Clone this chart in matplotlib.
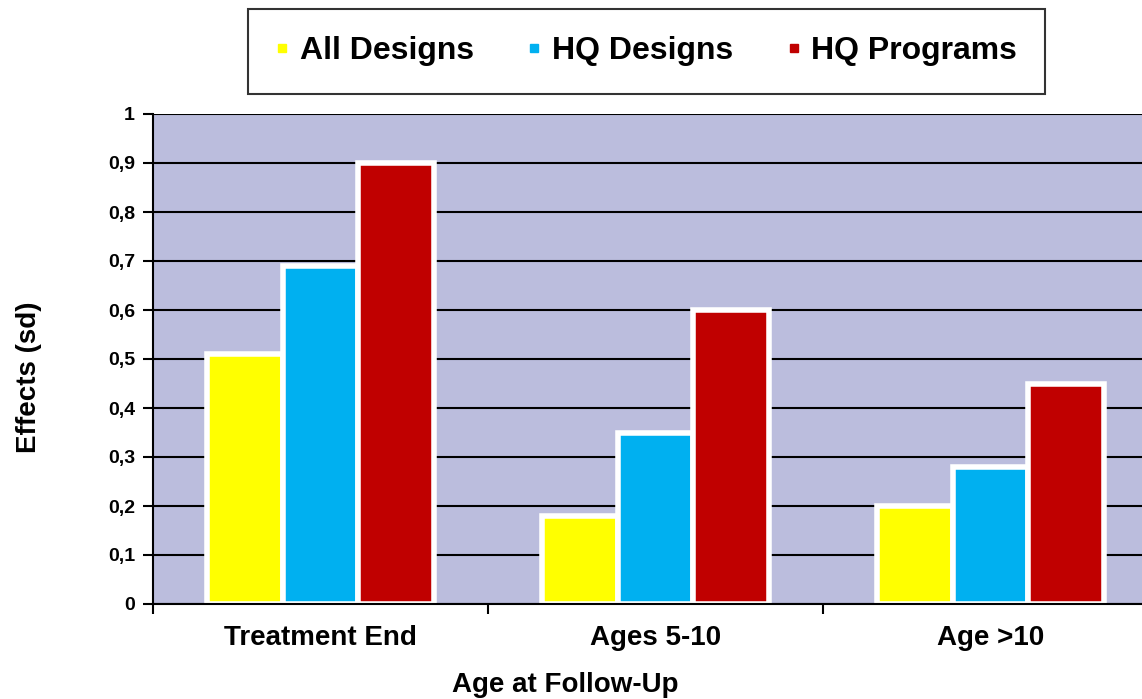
import numpy as np
import matplotlib.pyplot as plt
from matplotlib.lines import Line2D

plt.rcParams['font.family'] = ['Liberation Sans', 'DejaVu Sans']
plt.rcParams['font.weight'] = 'bold'

categories = ["Treatment End", "Ages 5-10", "Age >10"]
series_names = ["All Designs", "HQ Designs", "HQ Programs"]
all_designs = [0.51, 0.18, 0.20]
hq_designs = [0.69, 0.35, 0.28]
hq_programs = [0.90, 0.60, 0.45]
colors = ["#FFFF00", "#00B0F0", "#C00000"]

W, H = 1142, 699
fig = plt.figure(figsize=(W / 100, H / 100), dpi=100)
ax = fig.add_axes([153 / W, (H - 604) / H, 1005 / W, 490 / H])
ax.set_facecolor("#BBBDDD")

x = np.arange(len(categories))
width = 0.225
for k, (vals, c) in enumerate(zip([all_designs, hq_designs, hq_programs], colors)):
    ax.bar(x + (k - 1) * width, vals, width, color=c, edgecolor="white",
           linewidth=4, zorder=3)

ax.set_xlim(-0.5, len(categories) - 0.5)
ax.set_ylim(0, 1)
yt = np.round(np.arange(0, 1.01, 0.1), 1)
ax.set_yticks(yt)
ax.set_yticklabels([("%g" % v).replace(".", ",") for v in yt], fontsize=14)
ax.yaxis.grid(True, color="black", linewidth=1.5, zorder=1)
ax.set_axisbelow(True)

# boundary ticks on the bottom, category names in between
ax.set_xticks(np.arange(len(categories) + 1) - 0.5)
ax.set_xticklabels([])
ax.set_xticks(x, minor=True)
ax.set_xticklabels(categories, minor=True, fontsize=20)
ax.tick_params(axis="x", which="minor", length=0, pad=15)
ax.tick_params(axis="x", which="major", length=7, width=1.5, direction="out")
ax.tick_params(axis="y", length=7, width=1.5, direction="out", pad=6)

for s in ["top", "right"]:
    ax.spines[s].set_visible(False)
for s in ["left", "bottom"]:
    ax.spines[s].set_linewidth(1.5)
    ax.spines[s].set_zorder(5)

fig.text(29 / W, 1 - 377 / H, "Effects (sd)", rotation=90, ha="center",
         va="center", fontsize=20, fontweight="bold")
fig.text(565 / W, 1 - 685 / H, "Age at Follow-Up", ha="center", va="center",
         fontsize=20, fontweight="bold")

handles = [Line2D([], [], marker="s", linestyle="", markersize=6, color=c)
           for c in colors]
leg = fig.legend(handles, series_names, loc="center", ncol=3,
                 bbox_to_anchor=(646.5 / W, 1 - 51.5 / H), fontsize=23,
                 frameon=True, fancybox=False, shadow=False, borderpad=0.85,
                 handlelength=0.4, handletextpad=0.35, columnspacing=1.7,
                 borderaxespad=0)
leg.get_frame().set_edgecolor("black")
leg.get_frame().set_linewidth(1.5)

fig.savefig("out.png", dpi=100)
